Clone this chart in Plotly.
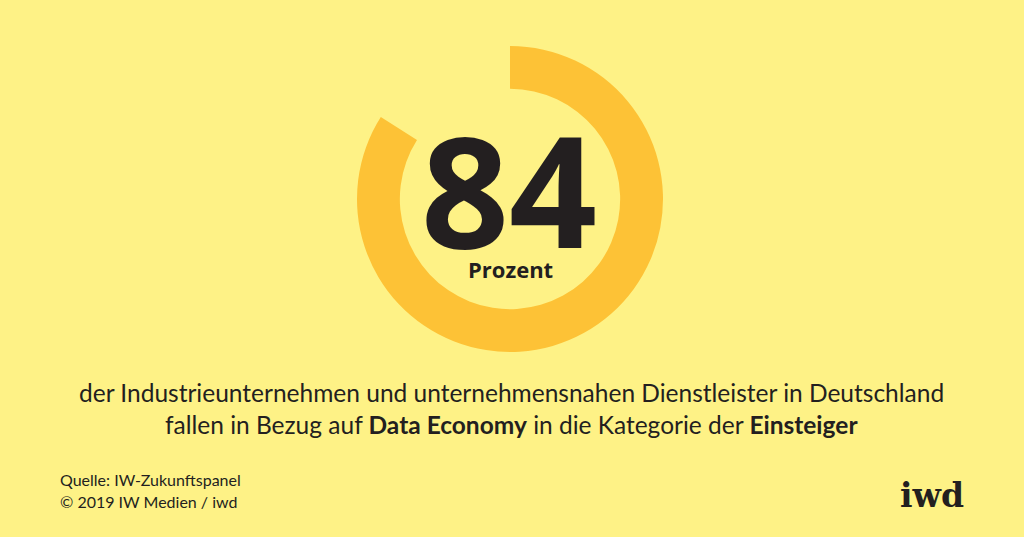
import plotly.graph_objects as go

# Data
labels = ["Einsteiger", "Rest"]
values = [84, 16]
big_number = "84"
unit_label = "Prozent"
line1 = "der Industrieunternehmen und unternehmensnahen Dienstleister in Deutschland"
line2 = "fallen in Bezug auf <b>Data Economy</b> in die Kategorie der <b>Einsteiger</b>"
source1 = "Quelle: IW-Zukunftspanel"
source2 = "© 2019 IW Medien / iwd"
logo = "iwd"

W, H = 1024, 537
BG = "#FEF286"
RING = "#FDC236"
DARK = "#231F20"

def px(x):
    return x / W

def py(y):
    return 1 - y / H

fig = go.Figure()
fig.add_trace(go.Pie(
    labels=labels, values=values, hole=0.72, sort=False,
    direction="clockwise", rotation=0,
    marker=dict(colors=[RING, "rgba(0,0,0,0)"], line=dict(width=0)),
    textinfo="none", hoverinfo="skip", showlegend=False,
    domain=dict(x=[px(357), px(663)], y=[py(352), py(46)]),
))

ann = []
ann.append(dict(x=px(509), y=py(188), text=f"<b>{big_number}</b>", showarrow=False,
                font=dict(family="Open Sans", size=154, color=DARK),
                xanchor="center", yanchor="middle"))
ann.append(dict(x=px(510), y=py(269), text=f"<b>{unit_label}</b>", showarrow=False,
                font=dict(family="Open Sans", size=22, color=DARK),
                xanchor="center", yanchor="middle"))
ann.append(dict(x=px(511), y=py(392), text=line1, showarrow=False,
                font=dict(family="Lato", size=24.5, color=DARK),
                xanchor="center", yanchor="middle"))
ann.append(dict(x=px(511), y=py(424), text=line2, showarrow=False,
                font=dict(family="Lato", size=24.5, color=DARK),
                xanchor="center", yanchor="middle"))
ann.append(dict(x=px(58), y=py(480), text=source1, showarrow=False,
                font=dict(family="Lato", size=16, color=DARK),
                xanchor="left", yanchor="middle"))
ann.append(dict(x=px(58), y=py(501), text=source2, showarrow=False,
                font=dict(family="Lato", size=16, color=DARK),
                xanchor="left", yanchor="middle"))
ann.append(dict(x=px(966), y=py(495), text=f"<b>{logo}</b>", showarrow=False,
                font=dict(family="DejaVu Serif", size=33, color=DARK),
                xanchor="right", yanchor="middle"))

fig.update_layout(
    width=W, height=H, margin=dict(l=0, r=0, t=0, b=0),
    paper_bgcolor=BG, plot_bgcolor=BG, annotations=ann,
)
fig.write_html("out.html", config={"displayModeBar": False},
               post_script="document.body.style.margin='0';document.body.style.background='" + BG + "';")
